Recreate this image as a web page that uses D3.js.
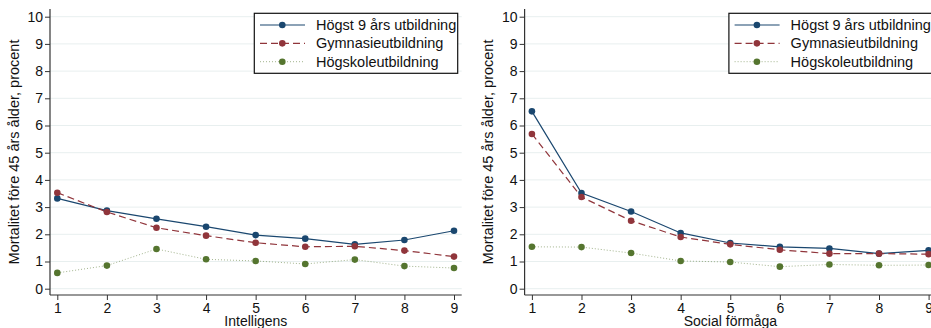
<!DOCTYPE html>
<html>
<head>
<meta charset="utf-8">
<script src="https://cdn.jsdelivr.net/npm/d3@7"></script>
<style>
  body { margin: 0; background: #fff; }
  svg { display: block; font-family: "Liberation Sans", Arial, sans-serif; }
</style>
</head>
<body>
<svg id="chart" width="931" height="328"></svg>
<script>
  const levels = [1, 2, 3, 4, 5, 6, 7, 8, 9];
  const yTicks = [0, 1, 2, 3, 4, 5, 6, 7, 8, 9, 10];
  const seriesNames = ['Högst 9 års utbildning', 'Gymnasieutbildning', 'Högskoleutbildning'];

  // Intelligens
  const intelLow = [3.32, 2.87, 2.57, 2.28, 1.97, 1.84, 1.63, 1.79, 2.13];
  const intelMid = [3.53, 2.82, 2.24, 1.95, 1.69, 1.54, 1.56, 1.40, 1.18];
  const intelHigh = [0.58, 0.85, 1.46, 1.08, 1.02, 0.91, 1.07, 0.83, 0.76];

  // Social förmåga
  const socialLow = [6.52, 3.52, 2.84, 2.05, 1.68, 1.54, 1.48, 1.29, 1.41];
  const socialMid = [5.69, 3.37, 2.50, 1.90, 1.63, 1.43, 1.29, 1.29, 1.27];
  const socialHigh = [1.54, 1.53, 1.31, 1.02, 0.98, 0.81, 0.89, 0.86, 0.87];

  const styles = [
    { color: '#1a476f', dash: null, width: 1.2, opacity: 1 },
    { color: '#90353b', dash: '7,4', width: 1.2, opacity: 1 },
    { color: '#55752f', dash: '1,2', width: 1, opacity: 0.55 }
  ];

  const FONT = '"Liberation Sans", Arial, sans-serif';
  const svg = d3.select('#chart');

  function drawPanel(ox, xTitle, values) {
    const g = svg.append('g').attr('transform', `translate(${ox},0)`);
    const left = 50, right = 461.7, top = 9, bottom = 295;

    const x = d3.scaleLinear().domain([1, 9]).range([57.3, 454]);
    const y = d3.scaleLinear().domain([0, 10]).range([288.7, 16.7]);

    // grid
    g.append('g')
      .selectAll('line')
      .data(yTicks)
      .join('line')
      .attr('x1', left).attr('x2', right)
      .attr('y1', d => y(d)).attr('y2', d => y(d))
      .attr('stroke', '#e8efef')
      .attr('stroke-width', 1);

    // axes
    const yAxis = g.append('g')
      .attr('transform', `translate(${left},0)`)
      .call(d3.axisLeft(y).tickValues(yTicks).tickSize(5).tickSizeOuter(0).tickPadding(2));
    yAxis.select('.domain').remove();
    yAxis.append('line').attr('y1', top).attr('y2', bottom).attr('stroke', '#333').attr('stroke-width', 1.2);

    const xAxis = g.append('g')
      .attr('transform', `translate(0,${bottom})`)
      .call(d3.axisBottom(x).tickValues(levels).tickSize(5).tickSizeOuter(0).tickPadding(3));
    xAxis.select('.domain').remove();
    xAxis.append('line').attr('x1', left).attr('x2', right).attr('stroke', '#333').attr('stroke-width', 1.2);

    g.selectAll('.tick line').attr('stroke', '#333');
    g.selectAll('.tick text')
      .attr('font-size', 14)
      .attr('fill', '#111')
      .attr('font-family', FONT);

    // titles
    g.append('text')
      .attr('x', (left + right) / 2)
      .attr('y', 326)
      .attr('text-anchor', 'middle')
      .attr('font-size', 14)
      .attr('fill', '#111')
      .text(xTitle);

    g.append('text')
      .attr('transform', `translate(18.5,${(top + bottom) / 2}) rotate(-90)`)
      .attr('text-anchor', 'middle')
      .attr('font-size', 14.5)
      .attr('fill', '#111')
      .text('Mortalitet före 45 års ålder, procent');

    // series
    const line = d3.line().x((d, i) => x(levels[i])).y(d => y(d));
    values.forEach((vals, k) => {
      const s = styles[k];
      g.append('path')
        .datum(vals)
        .attr('d', line)
        .attr('fill', 'none')
        .attr('stroke', s.color)
        .attr('stroke-width', s.width)
        .attr('stroke-opacity', s.opacity)
        .attr('stroke-dasharray', s.dash);
    });
    values.forEach((vals, k) => {
      g.append('g')
        .selectAll('circle')
        .data(vals)
        .join('circle')
        .attr('cx', (d, i) => x(levels[i]))
        .attr('cy', d => y(d))
        .attr('r', 3.3)
        .attr('fill', styles[k].color);
    });

    // legend
    const lg = g.append('g');
    lg.append('rect')
      .attr('x', 254.3).attr('y', 13.3)
      .attr('width', 203.4).attr('height', 60)
      .attr('fill', '#fff')
      .attr('stroke', '#111')
      .attr('stroke-width', 1.2);
    seriesNames.forEach((name, k) => {
      const s = styles[k];
      const ry = 25 + k * 18.35;
      lg.append('line')
        .attr('x1', 260).attr('x2', 305)
        .attr('y1', ry).attr('y2', ry)
        .attr('stroke', s.color)
        .attr('stroke-width', s.width)
        .attr('stroke-opacity', s.opacity)
        .attr('stroke-dasharray', s.dash);
      lg.append('circle')
        .attr('cx', 282.3).attr('cy', ry).attr('r', 3.3)
        .attr('fill', s.color);
      lg.append('text')
        .attr('x', 316).attr('y', ry + 5)
        .attr('font-size', 14.5)
        .attr('fill', '#111')
        .text(name);
    });
  }

  drawPanel(0, 'Intelligens', [intelLow, intelMid, intelHigh]);
  drawPanel(474.6, 'Social förmåga', [socialLow, socialMid, socialHigh]);
</script>
</body>
</html>
